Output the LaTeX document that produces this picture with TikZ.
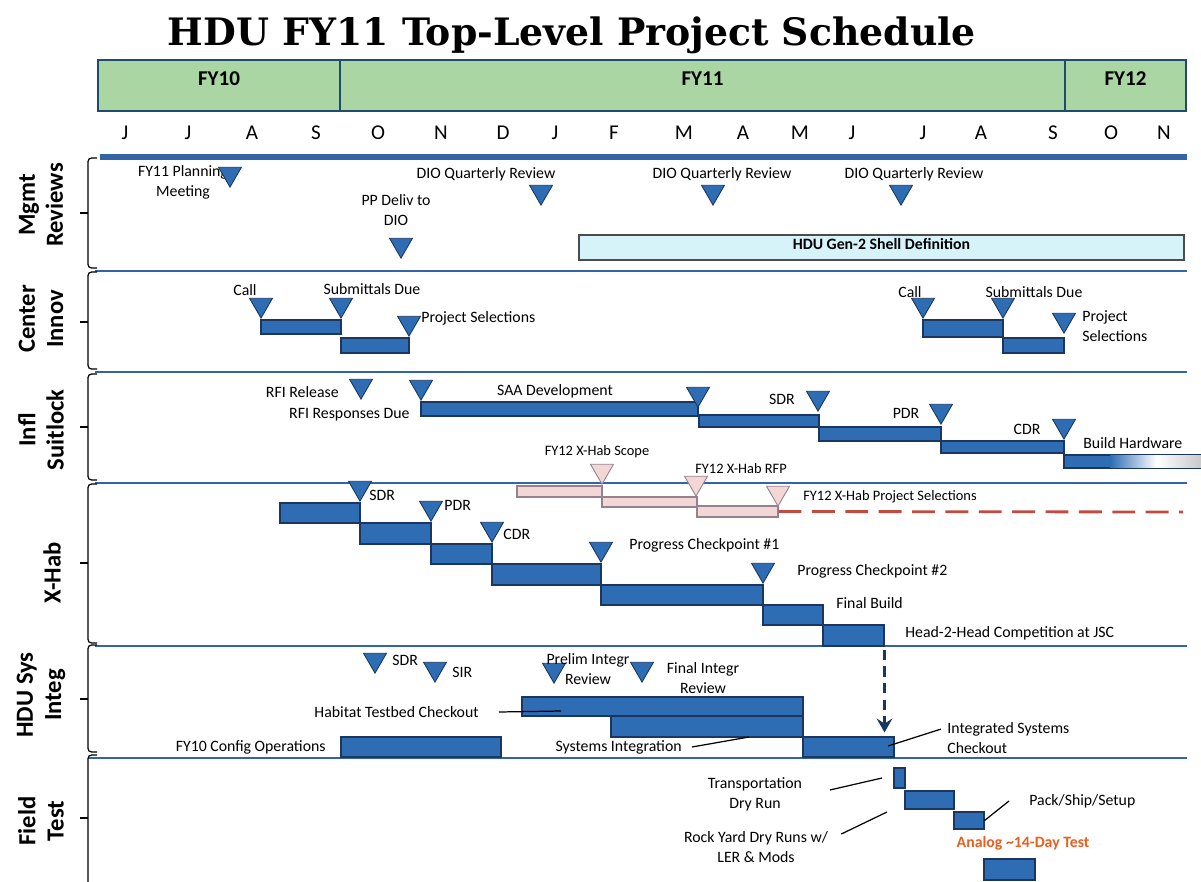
\documentclass[tikz,border=0pt]{standalone}
\usepackage{fontspec}
\setmainfont{Carlito}
\newfontfamily\titlefont{DejaVu Serif}
\usetikzlibrary{shapes.geometric,fit,arrows.meta}

\definecolor{barblue}{RGB}{46,109,180}
\definecolor{bardark}{RGB}{27,55,95}
\definecolor{sepblue}{RGB}{52,100,168}
\definecolor{fygreen}{RGB}{170,214,163}
\definecolor{fyedge}{RGB}{30,75,110}
\definecolor{shellcyan}{RGB}{214,243,250}
\definecolor{pinkfill}{RGB}{243,215,215}
\definecolor{pinkedge}{RGB}{150,130,140}
\definecolor{dashred}{RGB}{192,75,65}
\definecolor{analog}{RGB}{232,95,30}

\begin{document}
\begin{tikzpicture}[x=0.02cm, y=-0.02cm,
    lbl/.style={font=\fontsize{9}{11.4}\selectfont, inner sep=0pt, align=center},
    plbl/.style={lbl, font=\fontsize{8.2}{10}\selectfont},
    mon/.style={font=\fontsize{12}{14}\selectfont},
    fybox/.style={draw=fyedge, fill=fygreen, line width=1.2pt, inner sep=0pt, font=\fontsize{12}{14}\selectfont\bfseries},
    sect/.style={font=\fontsize{14}{16}\selectfont\bfseries, rotate=90, align=center, inner sep=0pt},
    ms/.style={regular polygon, regular polygon sides=3, shape border rotate=180, minimum size=0.53cm, inner sep=0pt, fill=barblue, draw=bardark, line width=0.5pt, anchor=corner 1},
    pms/.style={ms, fill=pinkfill, draw=pinkedge},
    bar/.style={inner sep=0pt, fill=barblue, draw=bardark, line width=0.6pt},
    pbar/.style={bar, fill=pinkfill, draw=pinkedge},
    shellbar/.style={inner sep=0pt, fill=shellcyan, draw=black!70, line width=0.6pt, font=\fontsize{9}{11}\selectfont\bfseries},
    sepline/.style={draw=sepblue, line width=1.1pt},
    bracket/.style={draw=black, line width=0.7pt, rounded corners=2pt},
    leader/.style={draw=black, line width=0.7pt},
    reddash/.style={draw=dashred, line width=1.6pt, dash pattern=on 13pt off 6pt},
    flow/.style={draw=bardark, line width=1.4pt, dash pattern=on 6pt off 3.5pt, -{Stealth[length=8pt, width=9pt, inset=3pt]}, shorten >=0.08cm}]

    \useasboundingbox (0,0) rectangle (1201,882);

    % title and calendar
    \node[font=\titlefont\bfseries\fontsize{21.5}{25}\selectfont] (title) at (572,35) {HDU FY11 Top-Level Project Schedule};
    \node[fybox, fit={(98,60)(340,111)}] (fy10) {FY10};
    \node[fybox, fit={(340,60)(1065,111)}] (fy11) {FY11};
    \node[fybox, fit={(1065,60)(1186,111)}] (fy12) {FY12};

    \node[mon] (mJun) at (125,133) {J};
    \node[mon] (mJul) at (188,133) {J};
    \node[mon] (mAug) at (252,133) {A};
    \node[mon] (mSep) at (316,133) {S};
    \node[mon] (mOct) at (378,133) {O};
    \node[mon] (mNov) at (441,133) {N};
    \node[mon] (mDec) at (503,133) {D};
    \node[mon] (mJan) at (555,133) {J};
    \node[mon] (mFeb) at (614,133) {F};
    \node[mon] (mMar) at (684,133) {M};
    \node[mon] (mApr) at (743,133) {A};
    \node[mon] (mMay) at (800,133) {M};
    \node[mon] (mJunB) at (852,133) {J};
    \node[mon] (mJulB) at (923,133) {J};
    \node[mon] (mAugB) at (981,133) {A};
    \node[mon] (mSepB) at (1053,133) {S};
    \node[mon] (mOctB) at (1111,133) {O};
    \node[mon] (mNovB) at (1164,133) {N};

    % rows
    \draw[draw=sepblue, line width=3pt] (100,157) -- (1187,157);
    \draw[sepline] (95,271) -- (1187,271);
    \draw[sepline] (95,372) -- (1187,372);
    \draw[sepline] (95,483) -- (1187,483);
    \draw[sepline] (95,646) -- (1187,646);
    \draw[sepline] (88,758) -- (1187,758);

    \draw[bracket] (97,158) -- (88,158) -- (88,268) -- (97,268);
    \draw[bracket] (88,213) -- (80,213);
    \draw[bracket] (97,272) -- (88,272) -- (88,369) -- (97,369);
    \draw[bracket] (88,322) -- (80,322);
    \draw[bracket] (97,374) -- (88,374) -- (88,480) -- (97,480);
    \draw[bracket] (88,427) -- (80,427);
    \draw[bracket] (97,484) -- (88,484) -- (88,643) -- (97,643);
    \draw[bracket] (88,563) -- (80,563);
    \draw[bracket] (97,645) -- (88,645) -- (88,752) -- (97,752);
    \draw[bracket] (88,699) -- (80,699);
    \draw[bracket] (97,755) -- (88,755) -- (88,882);
    \draw[bracket] (88,818) -- (80,818);

    \node[sect] (sMgmt) at (41,205) {Mgmt\\Reviews};
    \node[sect] (sCenter) at (41,319) {Center\\Innov};
    \node[sect] (sInfl) at (41,430) {Infl\\Suitlock};
    \node[sect] (sXhab) at (52,573) {X-Hab};
    \node[sect] (sHdu) at (41,695) {HDU Sys\\Integ};
    \node[sect] (sField) at (41,821) {Field\\Test};

    % Mgmt Reviews
    \node[lbl] (lPlan) at (183,182) {FY11 Planning\\Meeting};
    \node[ms] (mPlan) at (230,188) {};
    \node[lbl] (lDioA) at (486,174) {DIO Quarterly Review};
    \node[ms] (mDioA) at (541,206) {};
    \node[lbl] (lPP) at (396,210) {PP Deliv to\\DIO};
    \node[ms] (mPP) at (401,259) {};
    \node[lbl] (lDioB) at (722,174) {DIO Quarterly Review};
    \node[ms] (mDioB) at (713,206) {};
    \node[lbl] (lDioC) at (914,174) {DIO Quarterly Review};
    \node[ms] (mDioC) at (901,206) {};
    \node[shellbar, fit={(579,235)(1184,260)}] (shell) {\raisebox{-2pt}{HDU Gen-2 Shell Definition}};

    % Center Innov
    \node[bar, fit={(261,320)(341,334)}] (ciA) {};
    \node[bar, fit={(341,338)(409,353)}] (ciB) {};
    \node[lbl] (lCallA) at (245,290) {Call};
    \node[ms] (mCallA) at (261,319) {};
    \node[lbl] (lSubA) at (372,289) {Submittals Due};
    \node[ms] (mSubA) at (341,319) {};
    \node[ms] (mSelA) at (409,337) {};
    \node[lbl, anchor=west] (lSelA) at (421,318) {Project Selections};
    \node[bar, fit={(923,320)(1003,337)}] (ciC) {};
    \node[bar, fit={(1003,338)(1064,353)}] (ciD) {};
    \node[lbl] (lCallB) at (910,292) {Call};
    \node[ms] (mCallB) at (923,319) {};
    \node[lbl] (lSubB) at (1034,292) {Submittals Due};
    \node[ms] (mSubB) at (1003,319) {};
    \node[ms] (mSelB) at (1064,334) {};
    \node[lbl, anchor=west, align=left] (lSelB) at (1082,326) {Project\\Selections};

    % Infl Suitlock
    \node[bar, fit={(421,402)(698,416)}] (saa) {};
    \node[bar, fit={(699,415)(819,427)}] (slA) {};
    \node[bar, fit={(819,427)(941,441)}] (slB) {};
    \node[bar, fit={(941,441)(1064,453)}] (slC) {};
    \node[bar, fit={(1064,455)(1203,468)}] (bhw) {};
    \shade[left color=barblue, right color=black!22, middle color=white] (1110,455.6) rectangle (1203,467.4);
    \node[lbl, anchor=east] (lRfi) at (339,392) {RFI Release};
    \node[ms] (mRfi) at (361,400) {};
    \node[ms] (mResp) at (421,401) {};
    \node[lbl, anchor=east] (lResp) at (410,415) {RFI Responses Due};
    \node[lbl] (lSaa) at (555,391) {SAA Development};
    \node[ms] (mSaa) at (698,408) {};
    \node[lbl] (lSdrA) at (782,399) {SDR};
    \node[ms] (mSdrA) at (818,412) {};
    \node[lbl] (lPdrA) at (906,413) {PDR};
    \node[ms] (mPdrA) at (941,425) {};
    \node[lbl] (lCdrA) at (1027,429) {CDR};
    \node[ms] (mCdrA) at (1064,440) {};
    \node[lbl, anchor=west] (lBhw) at (1083,443) {Build Hardware};

    % FY12 X-Hab
    \coordinate (xhEnd) at (1183,512);
    \node[pbar, fit={(517,486)(602,497)}] (pbA) {};
    \node[pbar, fit={(602,497)(697,507)}] (pbB) {};
    \node[pbar, fit={(697,506)(778,517)}] (pbC) {};
    \draw[reddash] (pbC.east) -- (xhEnd);
    \node[plbl] (lScope) at (597,452) {FY12 X-Hab Scope};
    \node[pms] (pScope) at (602,485) {};
    \node[plbl, anchor=west] (lRfp) at (695,469) {FY12 X-Hab RFP};
    \node[pms] (pRfp) at (696,497) {};
    \node[pms] (pSel) at (778,507) {};
    \node[plbl, anchor=west] (lPsel) at (803,497) {FY12 X-Hab Project Selections};

    % X-Hab
    \node[bar, fit={(280,503)(360,523)}] (xhA) {};
    \node[bar, fit={(360,523)(431,544)}] (xhB) {};
    \node[bar, fit={(431,544)(492,564)}] (xhC) {};
    \node[bar, fit={(492,564)(601,585)}] (xhD) {};
    \node[bar, fit={(601,585)(763,605)}] (xhE) {};
    \node[bar, fit={(763,605)(823,625)}] (xhF) {};
    \node[bar, fit={(823,625)(884,646)}] (h2h) {};
    \node[ms] (mSdrB) at (360,502) {};
    \node[lbl, anchor=west] (lSdrB) at (369,495) {SDR};
    \node[ms] (mPdrB) at (431,522) {};
    \node[lbl, anchor=west] (lPdrB) at (444,505) {PDR};
    \node[ms] (mCdrB) at (492,543) {};
    \node[lbl, anchor=west] (lCdrB) at (503,534) {CDR};
    \node[ms] (mPcA) at (601,563) {};
    \node[lbl, anchor=west] (lPcA) at (629,545) {Progress Checkpoint \#1};
    \node[ms] (mPcB) at (763,584) {};
    \node[lbl, anchor=west] (lPcB) at (797,571) {Progress Checkpoint \#2};
    \node[lbl, anchor=west] (lFinal) at (836,603) {Final Build};
    \node[lbl, anchor=west] (lH2h) at (905,633) {Head-2-Head Competition at JSC};

    % HDU Sys Integ
    \node[bar, fit={(522,697)(803,716)}] (hab) {};
    \node[bar, fit={(611,716)(803,737)}] (sysi) {};
    \node[bar, fit={(341,737)(501,757)}] (cfg) {};
    \node[bar, fit={(803,737)(894,757)}] (isc) {};
    \node[ms] (mSdrC) at (375,674) {};
    \node[lbl, anchor=west] (lSdrC) at (392,660) {SDR};
    \node[ms] (mSir) at (435,683) {};
    \node[lbl, anchor=west] (lSir) at (452,672) {SIR};
    \node[ms] (mPre) at (554,684) {};
    \node[lbl] (lPre) at (588,669) {Prelim Integr\\Review};
    \node[ms] (mFin) at (642,683) {};
    \node[lbl] (lFin) at (703,678) {Final Integr\\Review};
    \node[lbl, anchor=east] (lHab) at (479,712) {Habitat Testbed Checkout};
    \node[lbl, anchor=east] (lSys) at (682,747) {Systems Integration};
    \node[lbl, anchor=east] (lCfg) at (326,747) {FY10 Config Operations};
    \node[lbl, anchor=west, align=left] (lIsc) at (947,738) {Integrated Systems\\Checkout};
    \coordinate (habPt) at (561,711);
    \coordinate (sysPt) at (749,737);
    \coordinate (iscPt) at (888,746);
    \draw[leader] ([xshift=0.4cm]lHab.east) -- (habPt);
    \draw[leader] ([xshift=0.2cm]lSys.east) -- (sysPt);
    \draw[leader] ([xshift=-0.12cm, yshift=-0.14cm]lIsc.north west) -- (iscPt);
    \draw[flow] ([yshift=-0.06cm]h2h.south east) -- (h2h.south east |- isc.north);

    % Field Test
    \node[bar, fit={(894,768)(905,788)}] (ftTr) {};
    \node[bar, fit={(905,791)(954,809)}] (ftRock) {};
    \node[bar, fit={(954,812)(984,829)}] (ftPack) {};
    \node[bar, fit={(984,859)(1035,880)}] (ftAna) {};
    \node[lbl] (lTr) at (755,794) {Transportation\\Dry Run};
    \node[lbl] (lRock) at (756,847) {Rock Yard Dry Runs w/\\LER \& Mods};
    \node[lbl, anchor=west] (lPack) at (1029,801) {Pack/Ship/Setup};
    \node[lbl, font=\fontsize{9}{11}\selectfont\bfseries, text=analog] (lAna) at (1023,843) {Analog \textasciitilde14-Day Test};
    \coordinate (trPt) at (882,778);
    \coordinate (rockPt) at (887,812);
    \draw[leader] ([shift={(0.55cm,0.08cm)}]lTr.east) -- (trPt);
    \draw[leader] ([shift={(0.26cm,0.26cm)}]lRock.east) -- (rockPt);
    \draw[leader] (ftPack.east) -- ([xshift=-0.4cm]lPack.west);
\end{tikzpicture}
\end{document}
